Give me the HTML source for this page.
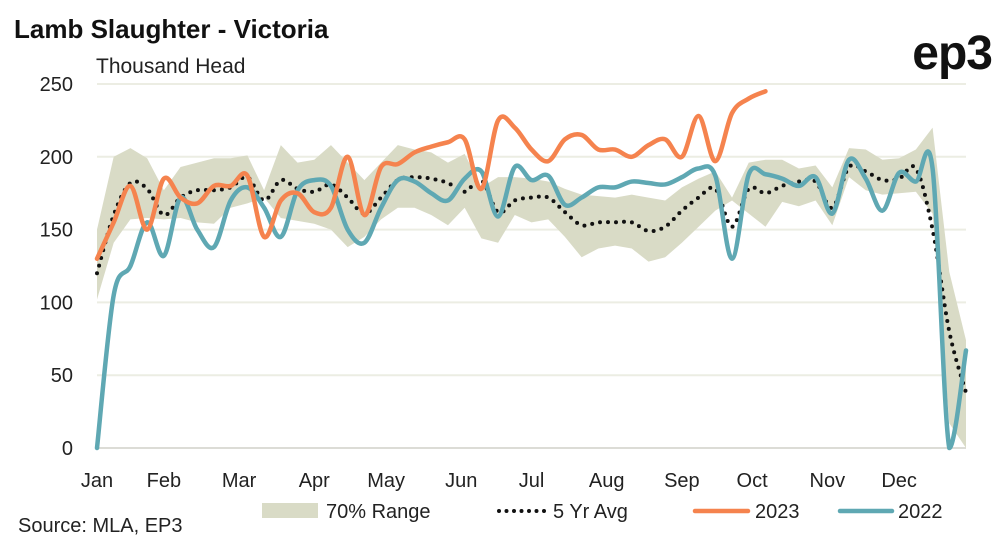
<!DOCTYPE html>
<html><head><meta charset="utf-8"><style>
body{margin:0;background:#fff;}
svg text{font-family:"Liberation Sans",sans-serif;}
</style></head><body>
<svg id="chart" width="1006" height="541" viewBox="0 0 1006 541" xmlns="http://www.w3.org/2000/svg">
<text x="14" y="38" font-size="26" font-weight="bold" fill="#111">Lamb Slaughter - Victoria</text>
<text x="992" y="69" font-size="48" font-weight="bold" fill="#111" text-anchor="end" letter-spacing="-1">ep3</text>
<text x="96" y="73" font-size="21" fill="#222">Thousand Head</text>
<g id="grid"></g>
<g id="ylabels"></g>
<g id="xlabels"></g>
<g id="series"></g>
<g>
<rect x="262" y="503" width="56" height="15" fill="#D9DBC6"/>
<text x="326" y="518" font-size="20" fill="#222">70% Range</text>
<line x1="499" y1="511" x2="545" y2="511" stroke="#111" stroke-width="4" stroke-linecap="round" stroke-dasharray="0 7.5"/>
<text x="553" y="518" font-size="20" fill="#222">5 Yr Avg</text>
<line x1="695" y1="511" x2="748" y2="511" stroke="#F5834E" stroke-width="4.5" stroke-linecap="round"/>
<text x="755" y="518" font-size="20" fill="#222">2023</text>
<line x1="840" y1="511" x2="892" y2="511" stroke="#5FA8B3" stroke-width="4.5" stroke-linecap="round"/>
<text x="898" y="518" font-size="20" fill="#222">2022</text>
</g>
<text x="18" y="532" font-size="20" fill="#222">Source: MLA, EP3</text>
</svg>
<script>
const months = ["Jan","Feb","Mar","Apr","May","Jun","Jul","Aug","Sep","Oct","Nov","Dec"];
const monthWeeks = [0,4,8.5,13,17.3,21.8,26,30.5,35,39.2,43.7,48];
const yTicks = [0,50,100,150,200,250];
const rangeUpper = [150,200,206,199,177,193,196,199,199,201,177,208,196,198,208,196,184,196,208,205,203,196,202,179,186,186,185,183,178,174,173,172,174,172,170,179,185,190,172,196,198,198,192,194,179,206,205,198,199,205,220,121,74];
const rangeLower = [102,141,157,158,157,158,155,154,165,168,172,158,156,154,150,138,145,157,165,165,160,153,165,144,141,160,155,157,145,131,137,139,137,128,131,141,152,163,170,161,152,169,166,170,153,186,177,174,175,176,161,17,0];
const avg5 = [120,160,182,178,160,172,177,177,179,186,170,184,178,176,181,172,161,172,184,186,185,182,176,184,162,170,172,172,162,153,155,155,155,149,152,163,172,178,152,178,175,180,183,183,165,193,190,184,185,192,150,80,38];
const y2023 = [130,155,180,150,185,172,168,180,180,187,145,170,175,162,165,200,160,193,195,203,207,210,212,178,225,220,205,197,212,215,205,205,200,208,212,200,228,197,230,240,245];
const y2022 = [0,105,125,155,132,172,150,138,170,179,165,145,177,184,180,150,141,165,184,183,175,170,185,190,159,193,184,187,167,172,179,179,183,182,181,186,192,187,130,188,188,185,180,186,161,198,185,163,189,183,192,0,67];

const NS="http://www.w3.org/2000/svg";
const X0=97,X1=966,Y0=448,Y1=84;
const nW=52;
function xs(i){return X0+(X1-X0)*i/nW;}
function ys(v){return Y0-(Y0-Y1)*v/250;}
function mk(tag,attrs,parent){const e=document.createElementNS(NS,tag);for(const k in attrs)e.setAttribute(k,attrs[k]);parent.appendChild(e);return e;}
function smooth(pts){
  let d="M"+pts[0][0]+","+pts[0][1];
  for(let i=0;i<pts.length-1;i++){
    const p0=pts[i-1]||pts[i],p1=pts[i],p2=pts[i+1],p3=pts[i+2]||p2;
    const c1=[p1[0]+(p2[0]-p0[0])/6,Math.min(Y0,p1[1]+(p2[1]-p0[1])/6)];
    const c2=[p2[0]-(p3[0]-p1[0])/6,Math.min(Y0,p2[1]-(p3[1]-p1[1])/6)];
    d+=" C"+c1[0]+","+c1[1]+" "+c2[0]+","+c2[1]+" "+p2[0]+","+p2[1];
  }
  return d;
}
const grid=document.getElementById('grid'),yl=document.getElementById('ylabels'),xl=document.getElementById('xlabels'),ser=document.getElementById('series');
yTicks.forEach(t=>{
  const l=mk('line',{x1:X0,x2:X1,y1:ys(t),y2:ys(t),stroke:t===0?'#DCDCD6':'#ECEDE3','stroke-width':2},grid);
  
  
  const tx=mk('text',{x:73,y:ys(t)+7,'font-size':20,fill:'#222','text-anchor':'end'},yl);
  tx.textContent=t;
  
  
});
months.forEach((m,i)=>{
  const tx=mk('text',{x:xs(monthWeeks[i]),y:487,'font-size':20,fill:'#222','text-anchor':'middle'},xl);
  tx.textContent=m;
  
  
});
let bd="";
rangeUpper.forEach((v,i)=>{bd+=(i?"L":"M")+xs(i)+","+ys(v)+" ";});
for(let i=rangeLower.length-1;i>=0;i--)bd+="L"+xs(i)+","+ys(rangeLower[i])+" ";
const band=mk('path',{d:bd+"Z",fill:'#D9DBC6'},ser);


const pAvg=mk('path',{d:smooth(avg5.map((v,i)=>[xs(i),ys(v)])),fill:'none',stroke:'#111','stroke-width':4,'stroke-linecap':'round','stroke-dasharray':'0 8'},ser);


const p22=mk('path',{d:smooth(y2022.map((v,i)=>[xs(i),ys(v)])),fill:'none',stroke:'#5FA8B3','stroke-width':4.5,'stroke-linejoin':'round','stroke-linecap':'round'},ser);


const p23=mk('path',{d:smooth(y2023.map((v,i)=>[xs(i),ys(v)])),fill:'none',stroke:'#F5834E','stroke-width':4.5,'stroke-linejoin':'round','stroke-linecap':'round'},ser);


</script>
</body></html>
